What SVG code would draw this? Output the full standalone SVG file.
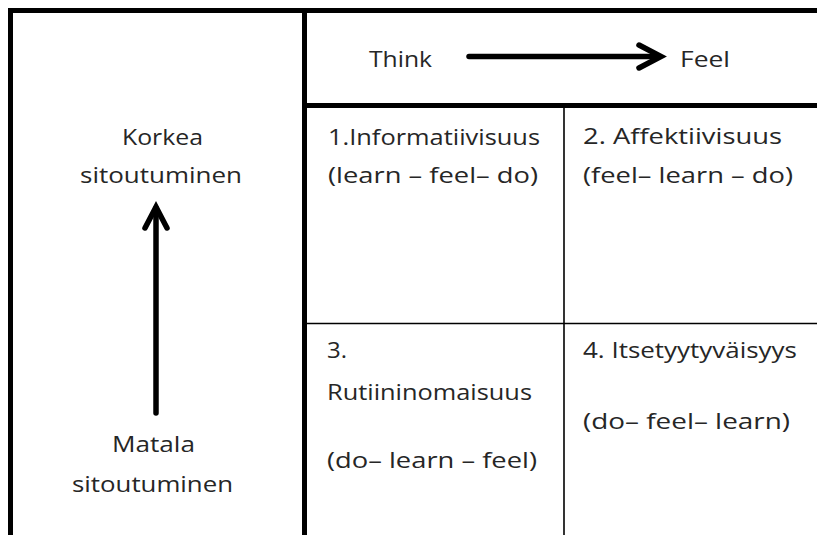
<svg xmlns="http://www.w3.org/2000/svg" width="817" height="535" viewBox="0 0 817 535">
<style>
.t{font-family:"Open Sans","Liberation Sans",sans-serif;font-size:22px;fill:#262626}
.c{text-anchor:middle}
.thick{stroke:#000;stroke-width:5;fill:none}
.thin{stroke:#000;stroke-width:1.6;fill:none}
.arr{stroke:#000;stroke-width:5.5;fill:none;stroke-linecap:round;stroke-linejoin:miter}
</style>
<rect width="817" height="535" fill="#fff"/>
<g id="grid">
<line class="thick" x1="8" y1="10.5" x2="817" y2="10.5"/>
<line class="thick" x1="10.5" y1="8" x2="10.5" y2="535"/>
<line class="thick" x1="304.5" y1="8" x2="304.5" y2="535"/>
<line class="thick" x1="304" y1="105.5" x2="817" y2="105.5"/>
<line class="thin" x1="564" y1="108" x2="564" y2="535"/>
<line class="thin" x1="307" y1="323.5" x2="817" y2="323.5"/>
</g>
<g id="connectors">
<line class="arr" x1="469" y1="56.5" x2="658" y2="56.5"/>
<polyline class="arr" points="639,45 661,56.5 639,68"/>
<line class="arr" x1="156" y1="208" x2="156" y2="413"/>
<polyline class="arr" points="145,228 156,207 167,228"/>
</g>
<g id="header">
<text class="t" x="369" y="67" textLength="63" lengthAdjust="spacingAndGlyphs">Think</text>
<text class="t" x="680" y="67" textLength="50" lengthAdjust="spacingAndGlyphs">Feel</text>
</g>
<g id="high">
<text class="t c" x="162.5" y="145" textLength="81" lengthAdjust="spacingAndGlyphs">Korkea</text>
<text class="t c" x="161" y="183" textLength="162" lengthAdjust="spacingAndGlyphs">sitoutuminen</text>
</g>
<g id="low">
<text class="t c" x="153.5" y="452" textLength="83" lengthAdjust="spacingAndGlyphs">Matala</text>
<text class="t c" x="152.5" y="492" textLength="161" lengthAdjust="spacingAndGlyphs">sitoutuminen</text>
</g>
<g id="q1">
<text class="t" x="328" y="145" textLength="212" lengthAdjust="spacingAndGlyphs">1.Informatiivisuus</text>
<text class="t" x="328" y="183" textLength="210" lengthAdjust="spacingAndGlyphs">(learn – feel– do)</text>
</g>
<g id="q2">
<text class="t" x="583" y="144" textLength="199" lengthAdjust="spacingAndGlyphs">2. Affektiivisuus</text>
<text class="t" x="583" y="183" textLength="210" lengthAdjust="spacingAndGlyphs">(feel– learn – do)</text>
</g>
<g id="q3">
<text class="t" x="327" y="358" textLength="20" lengthAdjust="spacingAndGlyphs">3.</text>
<text class="t" x="327" y="400" textLength="205" lengthAdjust="spacingAndGlyphs">Rutiininomaisuus</text>
<text class="t" x="327" y="468" textLength="210" lengthAdjust="spacingAndGlyphs">(do– learn – feel)</text>
</g>
<g id="q4">
<text class="t" x="583" y="358" textLength="214" lengthAdjust="spacingAndGlyphs">4. Itsetyytyväisyys</text>
<text class="t" x="583" y="429" textLength="207" lengthAdjust="spacingAndGlyphs">(do– feel– learn)</text>
</g>
</svg>
